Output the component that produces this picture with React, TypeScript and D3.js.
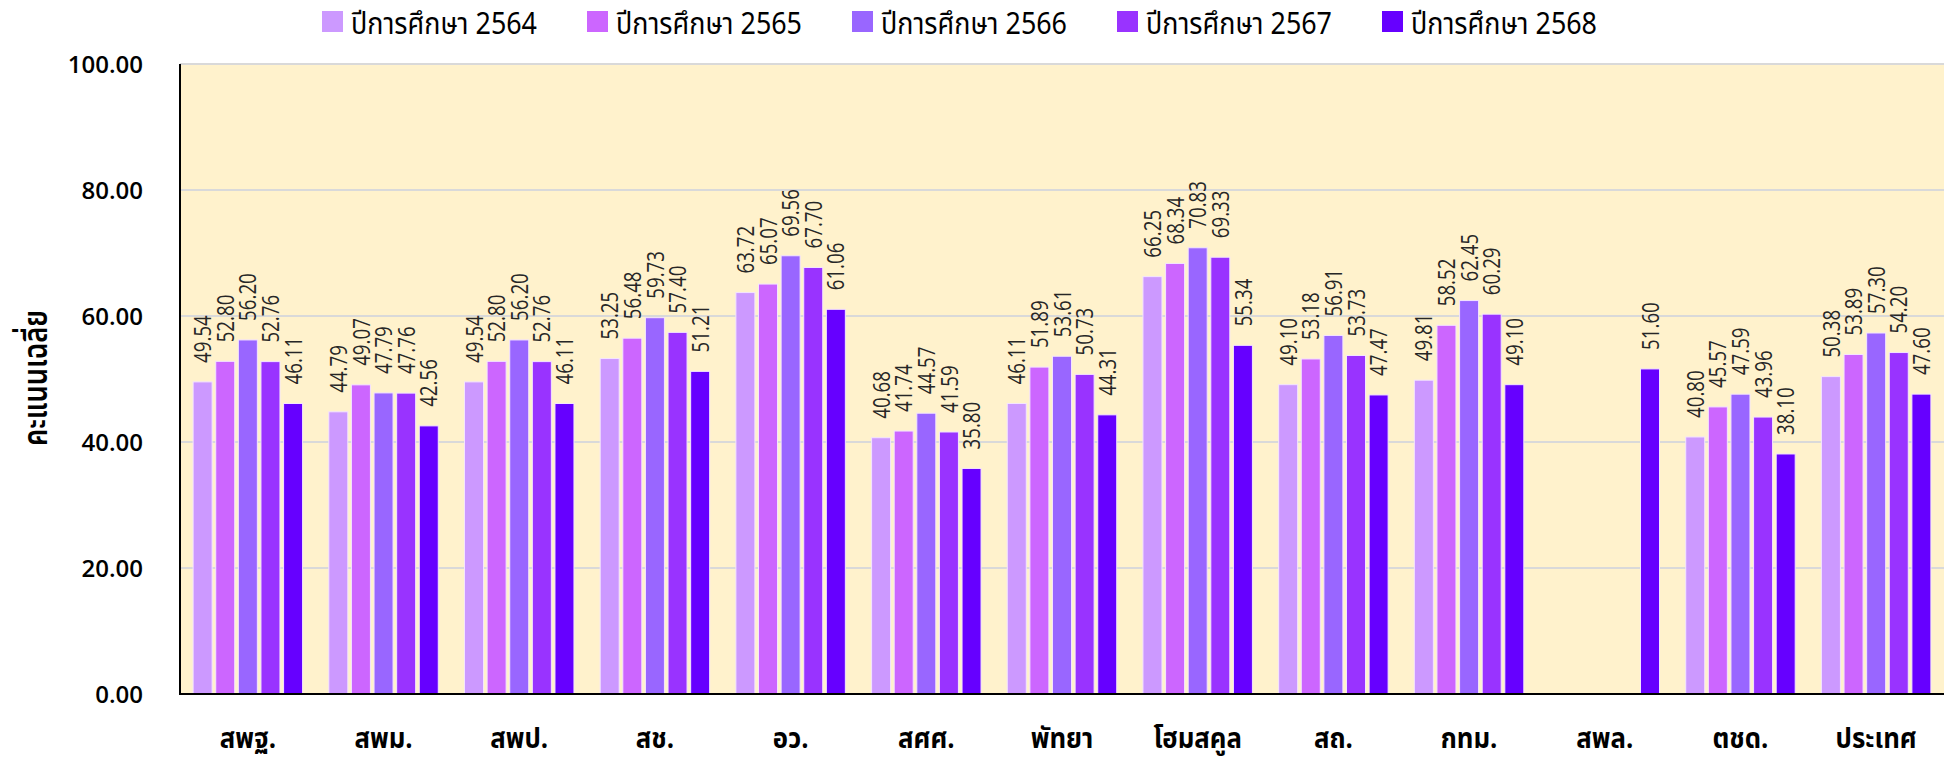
import React, { useRef, useEffect } from "react"
import * as d3 from "d3"

const categories = [
  "สพฐ.",
  "สพม.",
  "สพป.",
  "สช.",
  "อว.",
  "สศศ.",
  "พัทยา",
  "โฮมสคูล",
  "สถ.",
  "กทม.",
  "สพล.",
  "ตชด.",
  "ประเทศ",
]

const seriesNames = [
  "ปีการศึกษา 2564",
  "ปีการศึกษา 2565",
  "ปีการศึกษา 2566",
  "ปีการศึกษา 2567",
  "ปีการศึกษา 2568",
]

const y2564 = [49.54, 44.79, 49.54, 53.25, 63.72, 40.68, 46.11, 66.25, 49.1, 49.81, null, 40.8, 50.38]
const y2565 = [52.8, 49.07, 52.8, 56.48, 65.07, 41.74, 51.89, 68.34, 53.18, 58.52, null, 45.57, 53.89]
const y2566 = [56.2, 47.79, 56.2, 59.73, 69.56, 44.57, 53.61, 70.83, 56.91, 62.45, null, 47.59, 57.3]
const y2567 = [52.76, 47.76, 52.76, 57.4, 67.7, 41.59, 50.73, 69.33, 53.73, 60.29, null, 43.96, 54.2]
const y2568 = [46.11, 42.56, 46.11, 51.21, 61.06, 35.8, 44.31, 55.34, 47.47, 49.1, 51.6, 38.1, 47.6]

const yTicks = [0, 20, 40, 60, 80, 100]

const colors = ["#CC99FF", "#CC66FF", "#9966FF", "#9933FF", "#6600FF"]

const thaiFont = "'Noto Sans Thai', 'Leelawadee UI', Tahoma, 'Open Sans', sans-serif"
const numFont = "'Open Sans', 'Noto Sans', sans-serif"

const App: React.FC = () => {
  const svgRef = useRef<SVGSVGElement>(null)

  useEffect(() => {
    document.body.style.margin = "0"
    if (!svgRef.current) return

    const width = 1950
    const height = 763
    const margin = { top: 64, right: 6, bottom: 69, left: 180 }
    const innerW = width - margin.left - margin.right
    const innerH = height - margin.top - margin.bottom

    const svg = d3.select(svgRef.current)
    svg.selectAll("*").remove()

    const series = [y2564, y2565, y2566, y2567, y2568]

    const x0 = d3.scaleBand().domain(categories).range([0, innerW]).paddingInner(0).paddingOuter(0)
    const x1 = d3
      .scaleBand()
      .domain(seriesNames)
      .range([0, x0.bandwidth()])
      .paddingInner(0.16)
      .paddingOuter(0.58)
    const y = d3.scaleLinear().domain([0, 100]).range([innerH, 0])

    const g = svg.append("g").attr("transform", `translate(${margin.left},${margin.top})`)

    // plot background
    g.append("rect")
      .attr("x", 0)
      .attr("y", 0)
      .attr("width", innerW)
      .attr("height", innerH)
      .attr("fill", "#FFF2CC")

    // grid
    g.selectAll(".grid")
      .data(yTicks.filter((d) => d > 0))
      .enter()
      .append("line")
      .attr("x1", 0)
      .attr("x2", innerW)
      .attr("y1", (d) => y(d))
      .attr("y2", (d) => y(d))
      .attr("stroke", "#D9D9D9")
      .attr("stroke-width", 2)

    // y tick labels
    g.selectAll(".ytick")
      .data(yTicks)
      .enter()
      .append("text")
      .attr("x", -37)
      .attr("y", (d) => y(d))
      .attr("dy", "0.36em")
      .attr("text-anchor", "end")
      .attr("font-family", numFont)
      .attr("font-weight", 600)
      .attr("font-size", 24)
      .attr("fill", "#000")
      .text((d) => d3.format(".2f")(d))

    // bars
    categories.forEach((cat, ci) => {
      const cg = g.append("g").attr("transform", `translate(${x0(cat)},0)`)
      series.forEach((vals, si) => {
        const v = vals[ci]
        if (v == null) return
        const bx = x1(seriesNames[si])!
        cg.append("rect")
          .attr("x", bx)
          .attr("y", y(v))
          .attr("width", x1.bandwidth())
          .attr("height", innerH - y(v))
          .attr("fill", colors[si])
          .attr("stroke", "#F4E4FF")
          .attr("stroke-width", 1)
        const lx = bx + x1.bandwidth() / 2
        const ly = y(v) - 19
        cg.append("text")
          .attr("transform", `translate(${lx},${ly}) rotate(-90) scale(0.78,1)`)
          .attr("dy", "0.36em")
          .attr("font-family", numFont)
          .attr("font-size", 24)
          .attr("fill", "#262626")
          .text(d3.format(".2f")(v))
      })
    })

    // axes lines
    g.append("line")
      .attr("x1", 0)
      .attr("x2", 0)
      .attr("y1", 0)
      .attr("y2", innerH + 1)
      .attr("stroke", "#000")
      .attr("stroke-width", 2)
    g.append("line")
      .attr("x1", -1)
      .attr("x2", innerW)
      .attr("y1", innerH)
      .attr("y2", innerH)
      .attr("stroke", "#000")
      .attr("stroke-width", 2)

    // category labels
    g.selectAll(".xlabel")
      .data(categories)
      .enter()
      .append("text")
      .attr(
        "transform",
        (d) => `translate(${x0(d)! + x0.bandwidth() / 2},${innerH + 54}) scale(0.92,1)`
      )
      .attr("text-anchor", "middle")
      .attr("font-family", thaiFont)
      .attr("font-weight", "bold")
      .attr("font-size", 28)
      .attr("fill", "#000")
      .text((d) => d)

    // y axis title
    svg
      .append("text")
      .attr("transform", `translate(47,378) rotate(-90)`)
      .attr("text-anchor", "middle")
      .attr("font-family", thaiFont)
      .attr("font-weight", 600)
      .attr("font-size", 34)
      .attr("textLength", 136)
      .attr("lengthAdjust", "spacingAndGlyphs")
      .attr("fill", "#000")
      .text("คะแนนเฉลี่ย")

    // legend
    const legendX = d3.scalePoint().domain(seriesNames).range([322, 322 + 265 * 4])
    const lg = svg.selectAll(".legend").data(seriesNames).enter().append("g")
    lg.append("rect")
      .attr("x", (d) => legendX(d)!)
      .attr("y", 11)
      .attr("width", 21)
      .attr("height", 21)
      .attr("fill", (_, i) => colors[i])
    lg.append("text")
      .attr("x", (d) => legendX(d)! + 29)
      .attr("y", 34)
      .attr("font-family", thaiFont)
      .attr("font-size", 31)
      .attr("textLength", 186)
      .attr("lengthAdjust", "spacingAndGlyphs")
      .attr("fill", "#000")
      .text((d) => d)
  }, [])

  return <svg ref={svgRef} width={1950} height={763} style={{ display: "block" }} />
}

export default App
